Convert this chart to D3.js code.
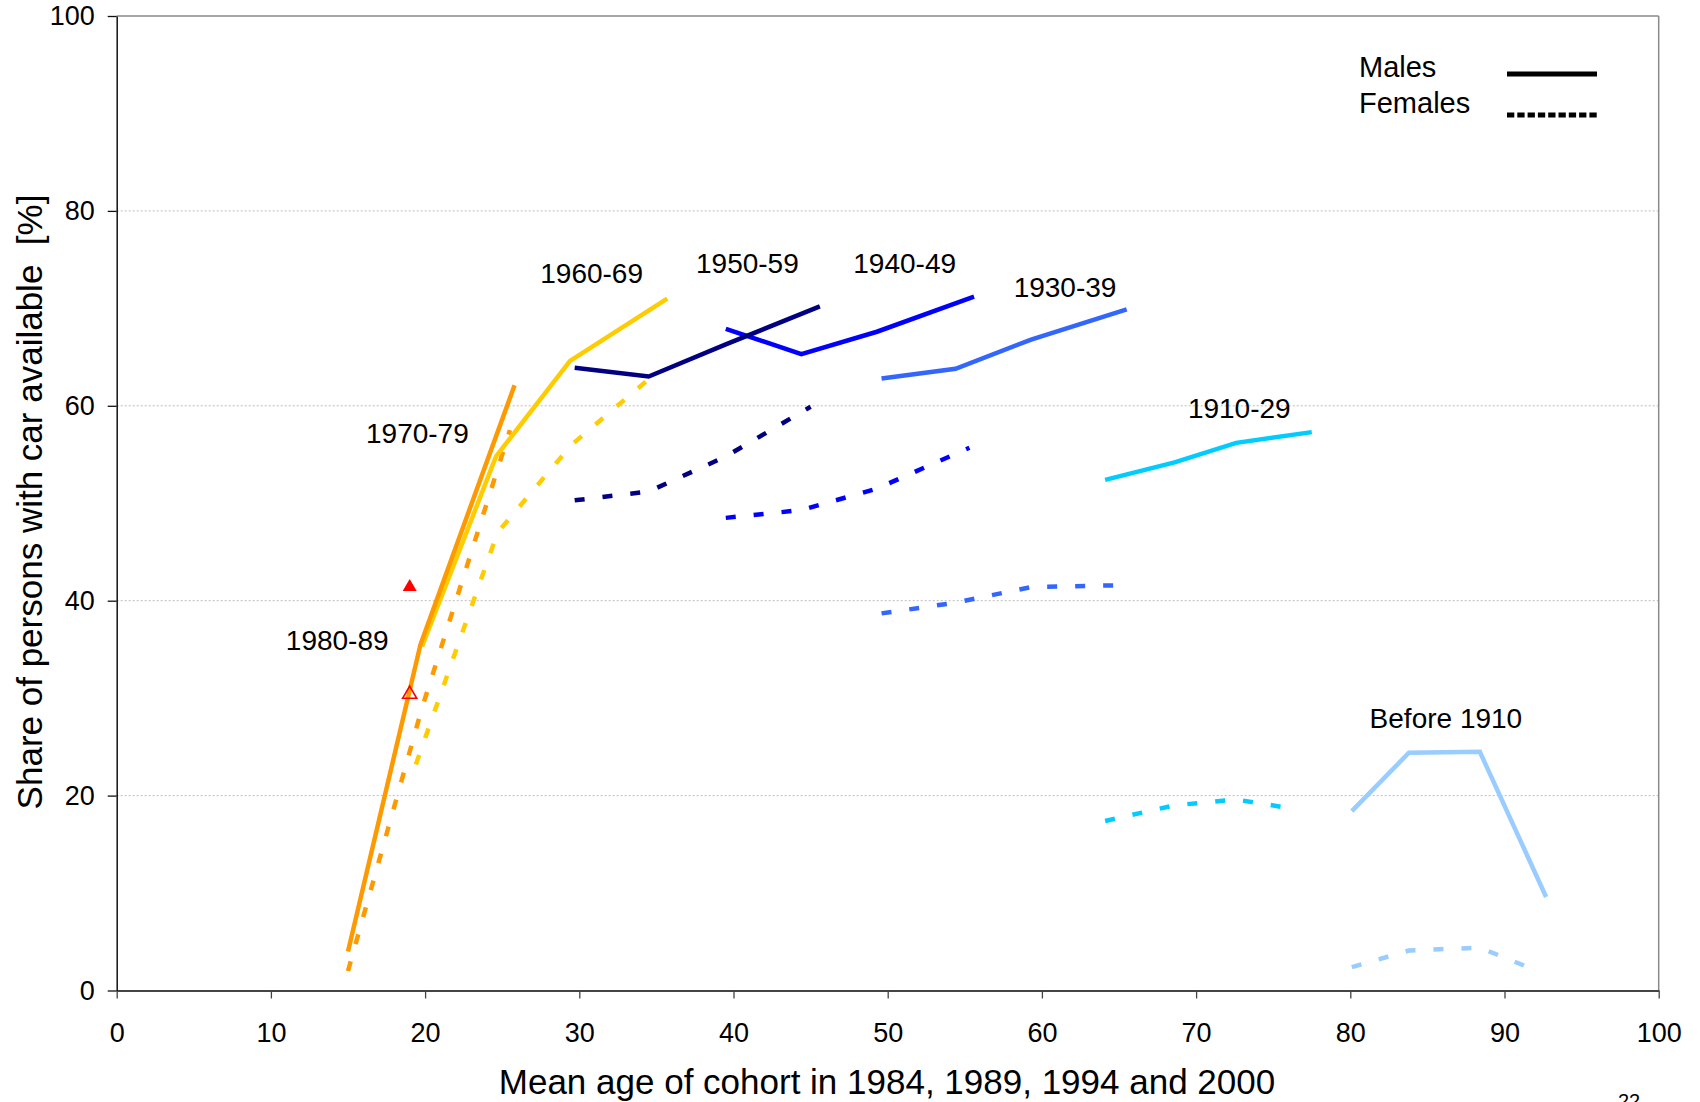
<!DOCTYPE html>
<html>
<head>
<meta charset="utf-8">
<script src="https://cdn.jsdelivr.net/npm/d3@7"></script>
<style>
  body { margin: 0; background: #fff; }
  text { font-family: "Liberation Sans", Arial, sans-serif; fill: #000; }
</style>
</head>
<body>
<div id="chart"></div>
<script>
// cohorts, colours and values
var cohorts = ["1970-79", "1960-69", "1950-59", "1940-49", "1930-39", "1910-29", "Before 1910"];
var colors = ["#FF9900", "#FFCC00", "#000080", "#0000FF", "#3366FF", "#00CCFF", "#99CCFF"];

var maleAges = [[15.0, 19.7, 25.8], [19.8, 24.6, 29.4, 35.7], [29.7, 34.5, 39.5, 45.6], [39.5, 44.4, 49.3, 55.6],
                [49.6, 54.4, 59.3, 65.5], [64.1, 68.6, 72.6, 77.5], [80.1, 83.8, 88.4, 92.7]];
var maleShare = [[4.0, 35.5, 62.1], [35.3, 54.8, 64.6, 71.0], [63.9, 63.0, 66.3, 70.2], [67.9, 65.3, 67.6, 71.2],
                 [62.8, 63.8, 66.8, 69.9], [52.4, 54.2, 56.2, 57.3], [18.4, 24.4, 24.5, 9.6]];

var femaleAges = [[15.0, 19.8, 25.5], [19.4, 24.7, 29.5, 34.7], [29.7, 34.5, 39.5, 45.0], [39.5, 44.4, 49.3, 55.3],
                  [49.6, 54.4, 59.3, 65.5], [64.1, 68.6, 72.6, 76.5], [80.1, 83.8, 88.4, 92.3]];
var femaleShare = [[2.0, 29.0, 57.5], [23.2, 47.0, 56.0, 63.0], [50.3, 51.2, 54.8, 59.9], [48.5, 49.3, 51.5, 55.7],
                   [38.7, 39.8, 41.4, 41.6], [17.4, 19.0, 19.6, 18.6], [2.4, 4.1, 4.4, 1.9]];

// 1980-89 markers (filled = males, hollow = females)
var markerAge = [19.0, 19.0];
var markerShare = [41.4, 30.4];

var labelText = ["1980-89", "1970-79", "1960-69", "1950-59", "1940-49", "1930-39", "1910-29", "Before 1910"];
var labelAge = [14.3, 19.5, 30.8, 40.9, 51.1, 61.5, 72.8, 86.2];
var labelShare = [34.9, 56.2, 72.6, 73.6, 73.6, 71.2, 58.7, 26.9];

var xTicks = [0, 10, 20, 30, 40, 50, 60, 70, 80, 90, 100];
var yTicks = [0, 20, 40, 60, 80, 100];
var gridTicks = [20, 40, 60, 80];

var width = 1700, height = 1102;
var margin = {top: 16, right: 41.3, bottom: 111.5, left: 116.7};

var svg = d3.select("#chart")
  .append("svg")
    .attr("width", width)
    .attr("height", height);

var x = d3.scaleLinear().domain([0, 100]).range([margin.left, width - margin.right]);
var y = d3.scaleLinear().domain([0, 100]).range([height - margin.bottom, margin.top]);

// dotted gridlines
svg.append("g")
  .selectAll("line")
  .data(gridTicks)
  .enter().append("line")
    .attr("x1", x(0)).attr("x2", x(100))
    .attr("y1", function(d) { return y(d); })
    .attr("y2", function(d) { return y(d); })
    .attr("stroke", "#bdbdbd")
    .attr("stroke-width", 1)
    .attr("stroke-dasharray", "2,2");

// top and right frame
svg.append("line")
  .attr("x1", x(0)).attr("x2", x(100)).attr("y1", y(100)).attr("y2", y(100))
  .attr("stroke", "#8a8a8a").attr("stroke-width", 1.5);
svg.append("line")
  .attr("x1", x(100)).attr("x2", x(100)).attr("y1", y(100)).attr("y2", y(0))
  .attr("stroke", "#8a8a8a").attr("stroke-width", 1.5);

// axes
var xAxis = svg.append("g")
  .attr("transform", "translate(0," + y(0) + ")")
  .call(d3.axisBottom(x).tickValues(xTicks).tickSize(8).tickSizeOuter(0).tickPadding(24));
xAxis.select(".domain").attr("stroke", "#444").attr("stroke-width", 2);
xAxis.selectAll(".tick line").attr("stroke", "#444").attr("stroke-width", 1.3);
xAxis.selectAll("text").style("font-size", "27px").attr("fill", "#000");

var yAxis = svg.append("g")
  .attr("transform", "translate(" + x(0) + ",0)")
  .call(d3.axisLeft(y).tickValues(yTicks).tickSize(9).tickSizeOuter(0).tickPadding(13));
yAxis.select(".domain").attr("stroke", "#111").attr("stroke-width", 1.5);
yAxis.selectAll(".tick line").attr("stroke", "#111").attr("stroke-width", 1.3);
yAxis.selectAll("text").style("font-size", "27px").attr("fill", "#000");

var line = d3.line()
  .x(function(d) { return x(d[0]); })
  .y(function(d) { return y(d[1]); });

function pairs(ages, share) {
  return ages.map(function(a, i) { return [a, share[i]]; });
}

// females (dashed)
svg.append("g")
  .selectAll("path")
  .data(cohorts)
  .enter().append("path")
    .attr("d", function(d, i) { return line(pairs(femaleAges[i], femaleShare[i])); })
    .attr("fill", "none")
    .attr("stroke", function(d, i) { return colors[i]; })
    .attr("stroke-width", 4.5)
    .attr("stroke-dasharray", "10,18");

// males (solid), drawn last cohort first so orange sits on top of yellow
var maleOrder = [6, 5, 4, 3, 2, 1, 0];
svg.append("g")
  .selectAll("path")
  .data(maleOrder)
  .enter().append("path")
    .attr("d", function(i) { return line(pairs(maleAges[i], maleShare[i])); })
    .attr("fill", "none")
    .attr("stroke", function(i) { return colors[i]; })
    .attr("stroke-width", 4.5)
    .attr("stroke-linejoin", "miter");

// red triangles
svg.append("g")
  .selectAll("path")
  .data(markerAge)
  .enter().append("path")
    .attr("d", d3.symbol().type(d3.symbolTriangle).size(85))
    .attr("transform", function(d, i) { return "translate(" + x(d) + "," + y(markerShare[i]) + ")"; })
    .attr("fill", function(d, i) { return i == 0 ? "#FF0000" : "none"; })
    .attr("stroke", "#FF0000")
    .attr("stroke-width", function(d, i) { return i == 0 ? 0 : 1.6; });

// cohort labels
svg.append("g")
  .selectAll("text")
  .data(labelText)
  .enter().append("text")
    .attr("x", function(d, i) { return x(labelAge[i]); })
    .attr("y", function(d, i) { return y(labelShare[i]); })
    .style("text-anchor", "middle")
    .style("font-size", "28px")
    .text(function(d) { return d; });

// legend
svg.append("text").attr("x", 1359).attr("y", 77).style("font-size", "29px").text("Males");
svg.append("text").attr("x", 1359).attr("y", 113).style("font-size", "29px").text("Females");
svg.append("line")
  .attr("x1", 1507).attr("x2", 1597).attr("y1", 74).attr("y2", 74)
  .attr("stroke", "#000").attr("stroke-width", 5);
svg.append("line")
  .attr("x1", 1507).attr("x2", 1597).attr("y1", 115).attr("y2", 115)
  .attr("stroke", "#000").attr("stroke-width", 5)
  .attr("stroke-dasharray", "7.3,3");

// axis titles
svg.append("text")
  .attr("transform", "translate(42,502) rotate(-90)")
  .style("text-anchor", "middle")
  .style("font-size", "35px")
  .style("white-space", "pre")
  .text("Share of persons with car available  [%]");

svg.append("text")
  .attr("x", 887)
  .attr("y", 1094)
  .style("text-anchor", "middle")
  .style("font-size", "35px")
  .text("Mean age of cohort in 1984, 1989, 1994 and 2000");

// page number, cut by the bottom edge as in the original
svg.append("text")
  .attr("x", 1629)
  .attr("y", 1108)
  .style("text-anchor", "middle")
  .style("font-size", "20px")
  .text("22");
</script>
</body>
</html>
